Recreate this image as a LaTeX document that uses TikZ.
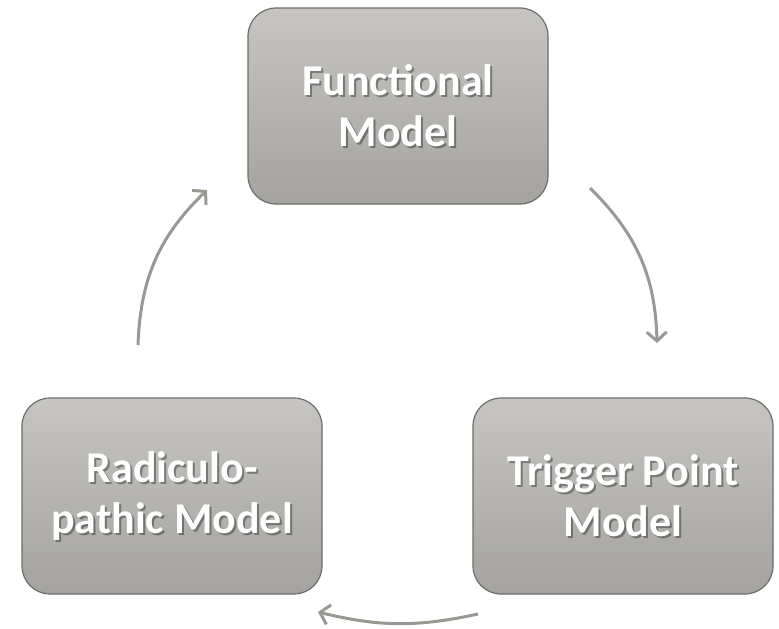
\documentclass[tikz,border=0pt]{standalone}
\usepackage{fontspec}
\setmainfont{Carlito}
\usetikzlibrary{arrows.meta,shadings}
\definecolor{boxtop}{HTML}{C6C5C1}
\definecolor{boxbot}{HTML}{A4A39F}
\definecolor{boxline}{HTML}{6E6D69}
\definecolor{arrowc}{HTML}{9A9893}
\tikzset{
  model/.style={rectangle, rounded corners=28pt, minimum width=300pt, minimum height=196pt,
    top color=boxtop, bottom color=boxbot, draw=boxline, line width=1.2pt},
  label/.style={text=white, font=\fontsize{44}{51}\selectfont\bfseries, align=center},
  shadowlabel/.style={label, text=black, opacity=0.35},
  cyc/.style={draw=arrowc, line width=3pt, -{Straight Barb[length=9pt,width=20pt]}, bend left=#1}
}
\begin{document}
\begin{tikzpicture}[x=1pt,y=-1pt]
\useasboundingbox (0,0) rectangle (779,629);
\node[model] (f) at (398,106) {};
\node[model] (t) at (623,496) {};
\node[model] (r) at (172,496) {};
\node[shadowlabel] (fs) at (400,108) {Functional\\Model};
\node[label] (fl) at (398,106) {Functional\\Model};
\node[shadowlabel] (ts) at (625,498) {Trigger Point\\Model};
\node[label] (tl) at (623,496) {Trigger Point\\Model};
\node[shadowlabel] (rs) at (174,498) {Radiculo-\\pathic Model};
\node[label] (rl) at (172,496) {Radiculo-\\pathic Model};
\coordinate (a1s) at (590,188);
\coordinate (a1e) at (657,343);
\coordinate (a2s) at (478,614);
\coordinate (a2e) at (318,612);
\coordinate (a3s) at (138,345);
\coordinate (a3e) at (207,190);
\draw[cyc=22] (a1s) to (a1e);
\draw[cyc=13] (a2s) to (a2e);
\draw[cyc=22] (a3s) to (a3e);
\end{tikzpicture}
\end{document}
